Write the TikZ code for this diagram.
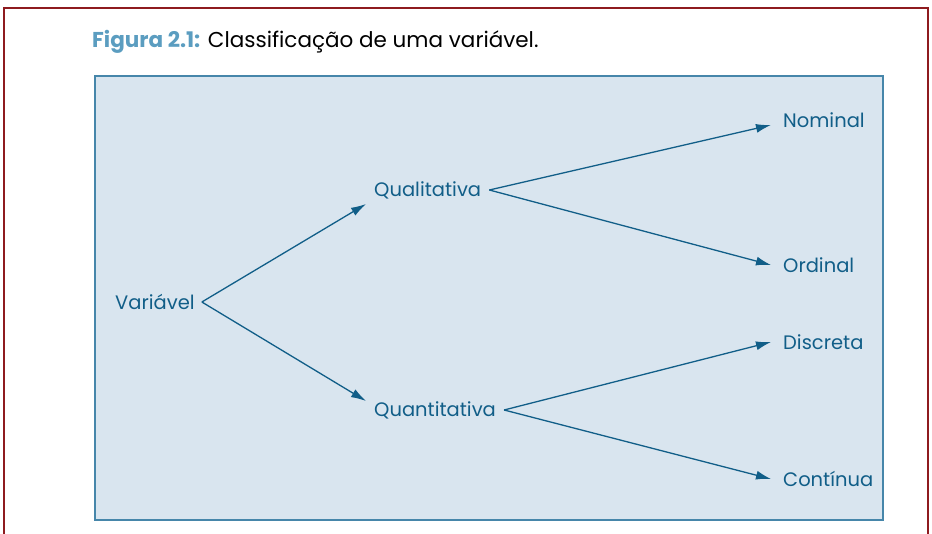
\documentclass[tikz,border=0pt]{standalone}
\usepackage{fontspec}
\setmainfont{Poppins}
\usetikzlibrary{positioning,arrows.meta}
\definecolor{framered}{HTML}{8E1B1F}
\definecolor{boxfill}{HTML}{D9E5EF}
\definecolor{boxline}{HTML}{4686AA}
\definecolor{varblue}{HTML}{115E88}
\definecolor{figblue}{HTML}{5B9DC0}
\tikzstyle{term} = [anchor=west, inner ysep=0pt, text=varblue, font=\fontsize{19.5}{22}\selectfont]
\tikzstyle{branch} = [term, inner xsep=8pt]
\tikzstyle{leaf} = [term, inner xsep=12pt]
\tikzstyle{link} = [draw=varblue, line width=1.3pt]

\begin{document}
\begin{tikzpicture}[x=1pt, y=-1pt, -{Latex[length=15pt, width=9pt]}]
	\useasboundingbox (0,0) rectangle (932,534);
	\draw [framered, line width=2pt, -] (4,534) -- (4,8) -- (928,8) -- (928,534);
	\node [anchor=west, inner sep=0pt, font=\fontsize{21.5}{24}\selectfont] (title) at (92,42)
		{\textcolor{figblue}{\textbf{Figura 2.1:}} Classificação de uma variável.};
	\draw [fill=boxfill, draw=boxline, line width=2pt, -] (95,76) rectangle (883,520);

	\node [term, inner xsep=7pt] (variavel) at (108,302) {Variável};
	\node [branch] (qualitativa) at (366,190) {Qualitativa};
	\node [branch] (quantitativa) at (366,410) {Quantitativa};
	\node [leaf] (nominal) at (771,120) {Nominal};
	\node [leaf] (ordinal) at (771,265) {Ordinal};
	\node [leaf] (discreta) at (771,342) {Discreta};
	\node [leaf] (continua) at (771,479) {Contínua};

	\draw [link] (variavel.east) -- ([yshift=-14pt]qualitativa.west);
	\draw [link] (variavel.east) -- ([yshift=9pt]quantitativa.west);
	\draw [link] (qualitativa.east) -- ([yshift=-5pt]nominal.west);
	\draw [link] (qualitativa.east) -- (ordinal.west);
	\draw [link] (quantitativa.east) -- (discreta.west);
	\draw [link] (quantitativa.east) -- (continua.west);
\end{tikzpicture}
\end{document}
